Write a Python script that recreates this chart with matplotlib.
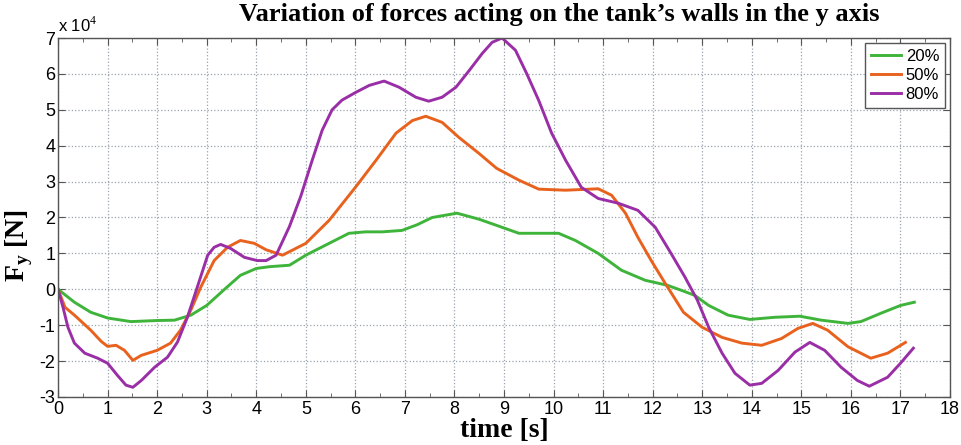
import matplotlib
matplotlib.use("Agg")
import matplotlib.pyplot as plt
from matplotlib.ticker import MultipleLocator

# Data (force in units of 1e4 N)
t_20 = [0, 0.33, 0.66, 1.0, 1.47, 2.0, 2.35, 2.68, 3.0, 3.36, 3.68, 4.0, 4.27, 4.67, 5.0, 5.47,
        5.87, 6.2, 6.54, 6.94, 7.25, 7.55, 8.05, 8.5, 8.85, 9.3, 9.7, 10.1, 10.44, 10.9, 11.37,
        11.85, 12.3, 12.62, 12.85, 13.13, 13.52, 13.96, 14.46, 14.97, 15.4, 15.94, 16.2, 16.6,
        17.0, 17.28]
f_20 = [0, -0.36, -0.64, -0.8, -0.9, -0.87, -0.86, -0.72, -0.45, 0.0, 0.39, 0.58, 0.63, 0.67, 0.95, 1.28,
        1.56, 1.6, 1.6, 1.64, 1.8, 2.0, 2.12, 1.95, 1.78, 1.56, 1.56, 1.56, 1.36, 1.0, 0.53,
        0.25, 0.11, -0.05, -0.17, -0.45, -0.72, -0.84, -0.78, -0.75, -0.86, -0.95, -0.9, -0.67,
        -0.45, -0.36]

t_50 = [0, 0.14, 0.33, 0.66, 0.87, 1.0, 1.17, 1.34, 1.51, 1.68, 2.0, 2.27, 2.47, 2.68, 2.88, 3.15,
        3.42, 3.68, 3.96, 4.2, 4.53, 5.0, 5.47, 6.0, 6.42, 6.82, 7.15, 7.42, 7.75, 8.09, 8.49,
        8.85, 9.3, 9.7, 10.24, 10.9, 11.17, 11.45, 11.7, 11.97, 12.25, 12.62, 13.0, 13.4, 13.8,
        14.2, 14.6, 14.93, 15.23, 15.53, 15.94, 16.4, 16.74, 17.1]
f_50 = [0, -0.5, -0.72, -1.14, -1.45, -1.59, -1.56, -1.7, -1.98, -1.84, -1.7, -1.5, -1.14, -0.58, 0.06, 0.8,
        1.17, 1.36, 1.28, 1.1, 0.95, 1.28, 1.92, 2.84, 3.6, 4.35, 4.7, 4.82, 4.65, 4.23, 3.79,
        3.37, 3.04, 2.79, 2.76, 2.8, 2.62, 2.12, 1.45, 0.8, 0.17, -0.64, -1.06, -1.34, -1.5,
        -1.56, -1.37, -1.09, -0.95, -1.14, -1.6, -1.92, -1.78, -1.48]

t_80 = [0, 0.1, 0.2, 0.33, 0.54, 0.8, 1.0, 1.2, 1.37, 1.51, 1.68, 1.95, 2.21, 2.41, 2.61, 2.81,
        3.02, 3.15, 3.28, 3.48, 3.76, 4.02, 4.2, 4.4, 4.67, 4.9, 5.13, 5.33, 5.53, 5.73, 6.0,
        6.28, 6.58, 6.88, 7.22, 7.48, 7.75, 8.03, 8.3, 8.56, 8.76, 8.96, 9.23, 9.46, 9.7, 9.96,
        10.24, 10.56, 10.9, 11.3, 11.7, 12.05, 12.37, 12.65, 12.9, 13.13, 13.4, 13.66, 13.96,
        14.2, 14.53, 14.87, 15.17, 15.47, 15.8, 16.13, 16.37, 16.74, 17.0, 17.26]
f_80 = [0, -0.5, -1.06, -1.5, -1.78, -1.92, -2.06, -2.4, -2.67, -2.73, -2.54, -2.17, -1.89, -1.47, -0.78, 0.06,
        0.95, 1.17, 1.25, 1.14, 0.89, 0.8, 0.8, 0.95, 1.75, 2.6, 3.6, 4.43, 5.0, 5.27, 5.48,
        5.68, 5.8, 5.63, 5.35, 5.24, 5.35, 5.63, 6.1, 6.57, 6.88, 7.0, 6.66, 6.0, 5.26, 4.35,
        3.6, 2.84, 2.53, 2.4, 2.2, 1.73, 1.0, 0.34, -0.3, -1.06, -1.78, -2.34, -2.67,
        -2.62, -2.26, -1.75, -1.48, -1.7, -2.17, -2.54, -2.7, -2.45, -2.06, -1.64]

labels = ["20%", "50%", "80%"]
colors = ["#3fb43a", "#e8621e", "#9a2ea6"]

plt.rcParams['axes.unicode_minus'] = False
plt.rcParams['mathtext.fontset'] = 'custom'
plt.rcParams['mathtext.rm'] = 'Liberation Serif'
plt.rcParams['mathtext.bf'] = 'Liberation Serif:bold'

fig = plt.figure(figsize=(9.61, 4.45), dpi=100)
ax = fig.add_axes([0.0604, 0.1079, 0.9282, 0.8067])

for t, f, lab, c in zip([t_20, t_50, t_80], [f_20, f_50, f_80], labels, colors):
    ax.plot(t, f, color=c, lw=2.1, label=lab, solid_joinstyle='round')

ax.set_xlim(0, 18)
ax.set_ylim(-3, 7)
ax.xaxis.set_major_locator(MultipleLocator(1))
ax.xaxis.set_minor_locator(MultipleLocator(0.5))
ax.yaxis.set_major_locator(MultipleLocator(1))
ax.grid(True, which='major', linestyle=':', color='#9aa3ad', lw=0.9)
ax.tick_params(which='both', direction='in', top=True, right=True, color='#555555')
ax.tick_params(which='major', length=5, labelsize=13, pad=2)
ax.tick_params(axis='x', which='major', pad=3)
ax.tick_params(which='minor', length=3)
for lbl in ax.get_xticklabels() + ax.get_yticklabels():
    lbl.set_fontfamily('Liberation Sans')
for s in ax.spines.values():
    s.set_color('#555555')
    s.set_linewidth(1.0)

ax.text(0.0, 1.01, r'x 10$^4$', transform=ax.transAxes, fontsize=12,
        fontfamily='Liberation Sans', ha='left', va='bottom')

fig.text(559 / 961, 1 - 14 / 445, "Variation of forces acting on the tank\u2019s walls in the y axis",
         fontfamily='Liberation Serif', fontweight='bold', fontsize=19, ha='center', va='center')
ax.set_xlabel("time [s]", fontfamily='Liberation Serif', fontweight='bold', fontsize=20, labelpad=0)
ax.set_ylabel(r"$\mathbf{F}_{\mathbf{y}}$ [N]", fontfamily='Liberation Serif', fontweight='bold',
              fontsize=20)
ax.yaxis.set_label_coords(-0.026, (397 - 245) / 359)

leg = ax.legend(loc='upper right', prop={'family': 'Liberation Sans', 'size': 12},
                fancybox=False, framealpha=1, edgecolor='#555555', handlelength=1.8,
                borderaxespad=0.3, labelspacing=0.25, handletextpad=0.3, borderpad=0.35)
leg.get_frame().set_linewidth(1.0)

fig.savefig("out.png", dpi=100)
